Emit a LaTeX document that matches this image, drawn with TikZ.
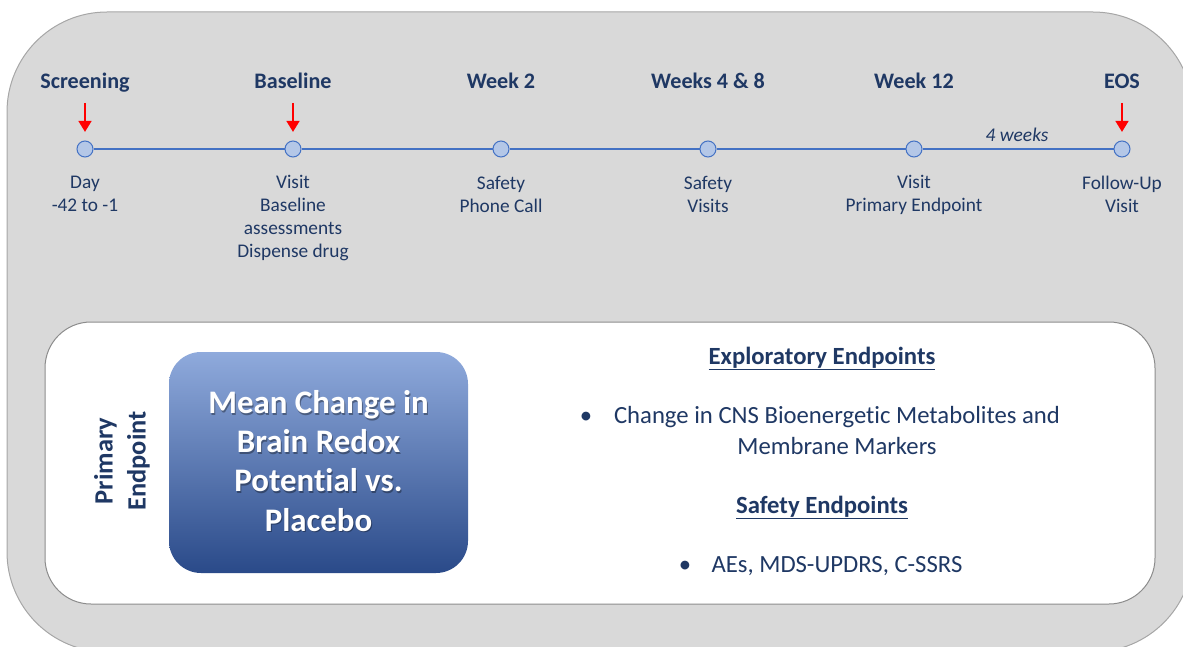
\documentclass[tikz,border=0pt]{standalone}
\usepackage{fontspec}
\setmainfont{Carlito}[Ligatures={TeX,CommonOff}]
\usetikzlibrary{arrows.meta}
\definecolor{navy}{HTML}{1F3864}
\definecolor{panelgray}{HTML}{D9D9D9}
\definecolor{panelline}{HTML}{A6A6A6}
\definecolor{boxline}{HTML}{8C8C8C}
\definecolor{tlblue}{HTML}{4472C4}
\definecolor{dotfill}{HTML}{B4C7E7}
\definecolor{gradtop}{HTML}{8FAADC}
\definecolor{gradmid}{HTML}{4270C2}
\definecolor{gradbot}{HTML}{2A4A89}
\tikzset{
  panel/.style={fill=panelgray, draw=panelline, line width=1bp, rounded corners=100bp},
  whitebox/.style={fill=white, draw=boxline, line width=1bp, rounded corners=46bp},
  tline/.style={draw=tlblue, line width=1.4bp},
  dot/.style={circle, fill=dotfill, draw=tlblue, line width=1bp, minimum size=16bp, inner sep=0pt},
  head/.style={text=navy, font=\fontsize{22.2}{26}\selectfont\bfseries, anchor=base, inner sep=0pt},
  sub/.style={text=navy, font=\fontsize{19.4}{23.3}\selectfont, align=center, anchor=base, inner sep=0pt},
  redarrow/.style={draw=red, line width=2.8bp, -{Triangle[width=12.5bp,length=11bp]}},
  bluetext/.style={text=white, font=\fontsize{33}{39.3}\selectfont\bfseries, align=center, anchor=base, inner sep=0pt},
  rhead/.style={text=navy, font=\fontsize{24.8}{30}\selectfont\bfseries, anchor=base, inner sep=0pt},
  rtext/.style={text=navy, font=\fontsize{24.8}{31}\selectfont, align=center, anchor=base, inner sep=0pt},
}
\begin{document}
\begin{tikzpicture}[x=1bp, y=-1bp]
\useasboundingbox (0,0) rectangle (1183,647);
\clip (0,0) rectangle (1183,647);

% grey background panel
\draw[panel] (7,12) rectangle (1193,652);

% ---- timeline ----
\node[dot] (d1) at (85,149) {};
\node[dot] (d2) at (293,149) {};
\node[dot] (d3) at (501,149) {};
\node[dot] (d4) at (708,149) {};
\node[dot] (d5) at (914,149) {};
\node[dot] (d6) at (1122,149) {};
\draw[tline] (d1) -- (d2);
\draw[tline] (d2) -- (d3);
\draw[tline] (d3) -- (d4);
\draw[tline] (d4) -- (d5);
\draw[tline] (d5) -- (d6);

\node[head] (h1) at (85,89) {Screening};
\node[head] (h2) at (293,89) {Baseline};
\node[head] (h3) at (501,89) {Week 2};
\node[head] (h4) at (708,89) {Weeks 4 \& 8};
\node[head] (h5) at (914,89) {Week 12};
\node[head] (h6) at (1122,89) {EOS};

\coordinate (a1s) at (85,103);  \coordinate (a1e) at (85,132);
\coordinate (a2s) at (293,103); \coordinate (a2e) at (293,132);
\coordinate (a6s) at (1122,103); \coordinate (a6e) at (1122,132);
\draw[redarrow] (a1s) -- (a1e);
\draw[redarrow] (a2s) -- (a2e);
\draw[redarrow] (a6s) -- (a6e);

\node[text=navy, font=\fontsize{19.5}{22}\selectfont\itshape, anchor=base, inner sep=0pt] (gap) at (1017,142) {4 weeks};

% multi-line labels are placed by the baseline of their last line
\node[sub] (s1) at (85,211.5) {Day\\-42 to -1};
\node[sub] (s2) at (293,258) {Visit\\Baseline\\assessments\\Dispense drug};
\node[sub] (s3) at (501,212.5) {Safety\\Phone Call};
\node[sub] (s4) at (708,212.5) {Safety\\Visits};
\node[sub] (s5) at (914,211.5) {Visit\\Primary Endpoint};
\node[sub] (s6) at (1122,212.5) {Follow-Up\\Visit};

% ---- endpoints panel ----
\draw[whitebox] (45,322) rectangle (1155,604);

\node[text=navy, font=\fontsize{26.5}{33}\selectfont\bfseries, align=center, rotate=90, inner sep=0pt] (pe) at (122,461) {Primary\\Endpoint};

\shade[rounded corners=32bp, top color=gradtop, middle color=gradmid, bottom color=gradbot] (169,352) rectangle (468,573);
\node[bluetext, text=black, opacity=0.35] at (319.5,532.5) {Mean Change in\\Brain Redox\\Potential vs.\\Placebo};
\node[bluetext] (main) at (318.5,531) {Mean Change in\\Brain Redox\\Potential vs.\\Placebo};

\node[rhead] (ex) at (822,364) {\underline{Exploratory Endpoints}};
\node[rtext] (b1) at (586,423) {•};
\node[rtext] (ext) at (837,454) {Change in CNS Bioenergetic Metabolites and\\Membrane Markers};
\node[rhead] (sf) at (822,513) {\underline{Safety Endpoints}};
\node[rtext] (b2) at (685,572) {•};
\node[rtext] (sft) at (837,572) {AEs, MDS-UPDRS, C-SSRS};
\end{tikzpicture}
\end{document}
